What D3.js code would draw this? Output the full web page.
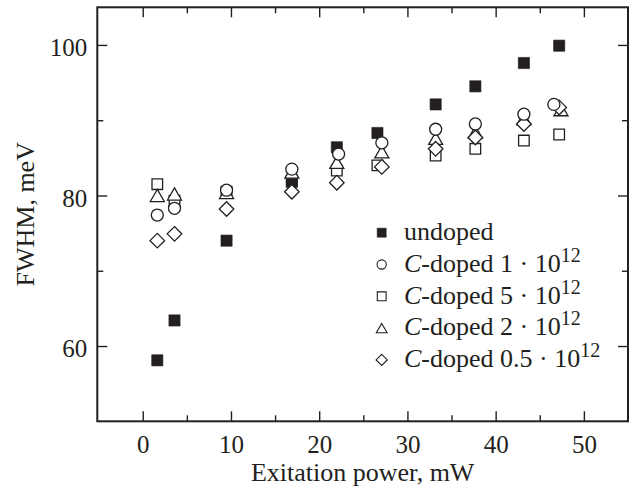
<!DOCTYPE html>
<html>
<head>
<meta charset="utf-8">
<script src="https://cdn.jsdelivr.net/npm/d3@7"></script>
<style>
  html, body { margin: 0; padding: 0; background: #fff; }
  svg { display: block; }
  text { font-family: "Liberation Serif", "Times New Roman", serif; fill: #231f20; }
</style>
</head>
<body>
<svg id="chart" width="630" height="488"></svg>
<script>
// ---- data ----
const xTicksMajor = [0, 10, 20, 30, 40, 50];
const xTicksMinor = [5, 15, 25, 35, 45];
const yTicksMajor = [60, 80, 100];
const yTicksMinor = [70, 90];

const undopedX = [1.65, 3.6, 9.5, 16.9, 22.0, 26.6, 33.2, 37.7, 43.2, 47.2];
const undopedY = [58.1, 63.4, 74.0, 81.8, 86.4, 88.3, 92.1, 94.5, 97.6, 99.9];

const c1X = [1.65, 3.6, 9.5, 16.9, 22.2, 27.1, 33.2, 37.7, 43.2, 46.6];
const c1Y = [77.4, 78.3, 80.7, 83.5, 85.5, 87.0, 88.8, 89.5, 90.8, 92.1];

const c5X = [1.65, 3.6, 9.5, 16.9, 22.0, 26.6, 33.2, 37.7, 43.2, 47.2];
const c5Y = [81.5, 79.3, 80.5, 82.0, 83.3, 84.0, 85.3, 86.2, 87.3, 88.1];

const c2X = [1.65, 3.6, 9.5, 16.9, 22.0, 27.1, 33.2, 37.7, 43.2, 47.4];
const c2Y = [80.0, 80.2, 80.4, 83.1, 84.4, 85.8, 87.6, 88.4, 90.2, 91.4];

const c05X = [1.65, 3.6, 9.5, 16.9, 22.0, 27.1, 33.2, 37.7, 43.2, 47.2];
const c05Y = [74.0, 74.9, 78.2, 80.5, 81.7, 83.8, 86.2, 87.7, 89.5, 91.7];

const legendLabels = [
  { key: "undoped", text: "undoped" },
  { key: "c1", pre: "-doped 1 · 10", sup: "12" },
  { key: "c5", pre: "-doped 5 · 10", sup: "12" },
  { key: "c2", pre: "-doped 2 · 10", sup: "12" },
  { key: "c05", pre: "-doped 0.5 · 10", sup: "12" }
];

// ---- setup ----
const ink = "#231f20";
const svg = d3.select("#chart");
const pL = 97.3, pR = 628, pT = 7.3, pB = 421.3;
const x = d3.scaleLinear().domain([-5.15, 55]).range([pL, pR]);
const y = d3.scaleLinear().domain([50, 105]).range([pB, pT]);

// custom symbols (size = half-extent in px)
const symSquare = { draw(ctx, s) { ctx.rect(-s, -s, 2 * s, 2 * s); } };
const symCircle = { draw(ctx, s) { ctx.moveTo(s, 0); ctx.arc(0, 0, s, 0, 2 * Math.PI); } };
const symTriangle = { draw(ctx, s) {
  const h = s * 1.73;
  ctx.moveTo(0, -h / 2); ctx.lineTo(s, h / 2); ctx.lineTo(-s, h / 2); ctx.closePath(); } };
const symDiamond = { draw(ctx, s) { ctx.moveTo(0, -s); ctx.lineTo(s, 0); ctx.lineTo(0, s); ctx.lineTo(-s, 0); ctx.closePath(); } };

const series = {
  undoped: { xs: undopedX, ys: undopedY, type: symSquare, size: 5.6, fill: ink, lsize: 4.5 },
  c1: { xs: c1X, ys: c1Y, type: symCircle, size: 6.0, fill: "#fff", lsize: 4.6 },
  c5: { xs: c5X, ys: c5Y, type: symSquare, size: 5.3, fill: "#fff", lsize: 4.4 },
  c2: { xs: c2X, ys: c2Y, type: symTriangle, size: 7.0, fill: "#fff", lsize: 5.4 },
  c05: { xs: c05X, ys: c05Y, type: symDiamond, size: 7.3, fill: "#fff", lsize: 5.6 }
};
const drawOrder = ["c5", "undoped", "c2", "c05", "c1"];

// ---- axes (ticks inward on all sides) ----
function styleAxis(g) {
  g.select(".domain").remove();
  g.selectAll(".tick line").attr("stroke", ink).attr("stroke-width", 1.4);
}
const fs = 25;
svg.append("g").attr("transform", `translate(0,${pB})`)
  .call(d3.axisBottom(x).tickValues(xTicksMajor).tickSize(-10).tickFormat(d3.format("d")))
  .call(styleAxis)
  .call(g => g.selectAll("text").attr("y", 31.4).attr("dy", 0).attr("font-size", fs)
    .style("font-family", '"Liberation Serif", serif').attr("fill", ink));
svg.append("g").attr("transform", `translate(0,${pB})`)
  .call(d3.axisBottom(x).tickValues(xTicksMinor).tickSize(-6).tickFormat(""))
  .call(styleAxis);
svg.append("g").attr("transform", `translate(0,${pT})`)
  .call(d3.axisTop(x).tickValues(xTicksMajor).tickSize(-10).tickFormat(""))
  .call(styleAxis);
svg.append("g").attr("transform", `translate(0,${pT})`)
  .call(d3.axisTop(x).tickValues(xTicksMinor).tickSize(-6).tickFormat(""))
  .call(styleAxis);

svg.append("g").attr("transform", `translate(${pL},0)`)
  .call(d3.axisLeft(y).tickValues(yTicksMajor).tickSize(-10).tickFormat(d3.format("d")))
  .call(styleAxis)
  .call(g => g.selectAll("text").attr("x", -10).attr("dy", "0.43em").attr("font-size", fs)
    .style("font-family", '"Liberation Serif", serif').attr("fill", ink));
svg.append("g").attr("transform", `translate(${pL},0)`)
  .call(d3.axisLeft(y).tickValues(yTicksMinor).tickSize(-6).tickFormat(""))
  .call(styleAxis);
svg.append("g").attr("transform", `translate(${pR},0)`)
  .call(d3.axisRight(y).tickValues(yTicksMajor).tickSize(-10).tickFormat(""))
  .call(styleAxis);
svg.append("g").attr("transform", `translate(${pR},0)`)
  .call(d3.axisRight(y).tickValues(yTicksMinor).tickSize(-6).tickFormat(""))
  .call(styleAxis);

// frame
svg.append("rect").attr("x", pL).attr("y", pT)
  .attr("width", pR - pL).attr("height", pB - pT)
  .attr("fill", "none").attr("stroke", ink).attr("stroke-width", 2);

// ---- points ----
drawOrder.forEach(k => {
  const s = series[k];
  const pts = s.xs.map((v, i) => [v, s.ys[i]]);
  svg.append("g").selectAll("path").data(pts).join("path")
    .attr("transform", d => `translate(${x(d[0])},${y(d[1])})`)
    .attr("d", d3.symbol().type(s.type).size(s.size))
    .attr("fill", s.fill)
    .attr("stroke", ink)
    .attr("stroke-width", k === "undoped" ? 0.6 : 1.3);
});

// ---- legend ----
const legX = 381.7, legTextX = 404, legBase0 = 240, legStep = 31.8;
legendLabels.forEach((L, i) => {
  const s = series[L.key];
  const base = legBase0 + i * legStep;
  svg.append("path")
    .attr("transform", `translate(${legX},${base - 7.3})`)
    .attr("d", d3.symbol().type(s.type).size(s.lsize))
    .attr("fill", s.fill).attr("stroke", ink)
    .attr("stroke-width", L.key === "undoped" ? 0.6 : 1.1);
  const t = svg.append("text").attr("x", legTextX).attr("y", base).attr("font-size", 26);
  if (L.text) {
    t.text(L.text);
  } else {
    t.append("tspan").attr("font-style", "italic").text("C");
    t.append("tspan").text(L.pre);
    t.append("tspan").attr("font-size", 20).attr("dy", -10).text(L.sup);
  }
});

// ---- axis titles ----
svg.append("text").attr("x", (pL + pR) / 2).attr("y", 481)
  .attr("text-anchor", "middle").attr("font-size", 26).text("Exitation power, mW");
svg.append("text").attr("transform", `translate(34,${(pT + pB) / 2}) rotate(-90)`)
  .attr("text-anchor", "middle").attr("font-size", 26).text("FWHM, meV");
</script>
</body>
</html>
